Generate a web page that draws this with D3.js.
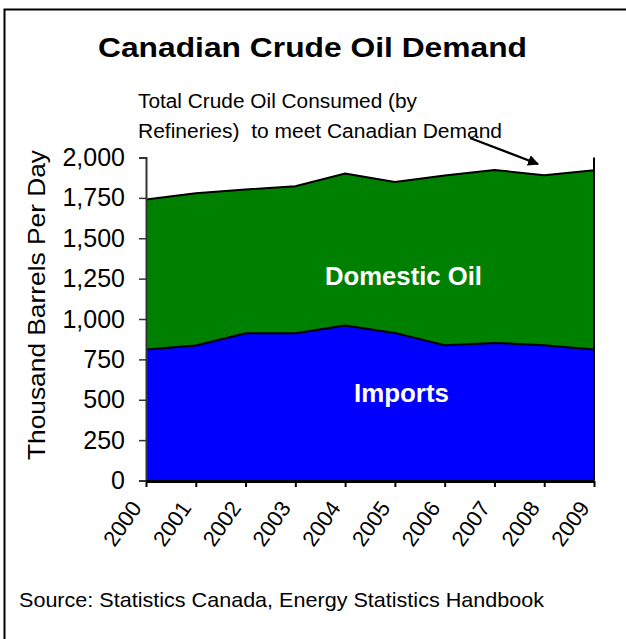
<!DOCTYPE html>
<html><head><meta charset="utf-8">
<script src="https://cdn.jsdelivr.net/npm/d3@7"></script>
<style>body{margin:0;background:#fff}svg{display:block}text{font-family:"Liberation Sans",Arial,sans-serif}</style>
</head><body>
<svg id="c" width="626" height="639"></svg>
<script>
const years = ["2000","2001","2002","2003","2004","2005","2006","2007","2008","2009"];
const imports = [811, 836, 912, 912, 960, 914, 838, 852, 838, 811];
const domestic = [929, 943, 890, 910, 941, 935, 1050, 1071, 1052, 1110];
const yTicks = [0, 250, 500, 750, 1000, 1250, 1500, 1750, 2000];

const svg = d3.select("#c");
svg.append("rect").attr("x",4.5).attr("y",9.5).attr("width",700).attr("height",700)
  .attr("fill","none").attr("stroke","#000").attr("stroke-width",2);

const x = d3.scalePoint().domain(years).range([146, 594]);
const y = d3.scaleLinear().domain([0, 2000]).range([480.5, 157.5]);

const data = years.map((yr,i)=>({yr, imp: imports[i], dom: domestic[i]}));
const stack = d3.stack().keys(["imp","dom"])(data);
const area = d3.area().x(d=>x(d.data.yr)).y0(d=>y(d[0])).y1(d=>y(d[1]));
const colors = ["#0000ff","#008000"];
stack.forEach((s,i)=>{
  svg.append("path").datum(s).attr("d",area).attr("fill",colors[i]);
});
const line = d3.line().x(d=>x(d.data.yr)).y(d=>y(d[1]));
stack.forEach(s=>{
  svg.append("path").datum(s).attr("d",line).attr("fill","none").attr("stroke","#000").attr("stroke-width",2);
});
svg.append("line").attr("x1",x("2009")).attr("x2",x("2009"))
  .attr("y1",y(2000)).attr("y2",y(0)).attr("stroke","#000").attr("stroke-width",2);

// y axis
const ya = svg.append("g").attr("transform","translate(146,0)")
  .call(d3.axisLeft(y).tickValues(yTicks).tickSize(7).tickPadding(14).tickFormat(d3.format(",")));
ya.select(".domain").attr("stroke","#333").attr("stroke-width",2);
ya.selectAll(".tick line").attr("stroke","#333").attr("stroke-width",1.5);
ya.selectAll("text").attr("font-size",25).attr("fill","#000");

// x axis
const xa = svg.append("g").attr("transform","translate(0,481)")
  .call(d3.axisBottom(x).tickSize(6).tickSizeOuter(0));
xa.select(".domain").attr("stroke","#000").attr("stroke-width",3);
xa.selectAll(".tick line").attr("stroke","#000").attr("stroke-width",2);
xa.selectAll("text").attr("font-size",22).attr("fill","#000")
  .attr("text-anchor","end").attr("x",0).attr("y",0).attr("dy",0)
  .attr("transform","translate(-4,27) rotate(-55)");

// texts
svg.append("text").attr("x",98).attr("y",57).attr("textLength",429).attr("lengthAdjust","spacingAndGlyphs")
  .attr("font-size",27).attr("font-weight","bold").text("Canadian Crude Oil Demand");
svg.append("text").attr("x",138).attr("y",108).attr("font-size",20)
  .attr("textLength",279).attr("lengthAdjust","spacingAndGlyphs").text("Total Crude Oil Consumed (by");
svg.append("text").attr("x",138).attr("y",138).attr("font-size",20)
  .attr("textLength",364).attr("lengthAdjust","spacingAndGlyphs")
  .style("white-space","pre").text("Refineries)  to meet Canadian Demand");
svg.append("text").attr("transform","translate(45,305) rotate(-90)").attr("text-anchor","middle")
  .attr("font-size",24).attr("textLength",310).attr("lengthAdjust","spacingAndGlyphs")
  .text("Thousand Barrels Per Day");
svg.append("text").attr("x",325).attr("y",285).attr("fill","#fff")
  .attr("font-size",25).attr("font-weight","bold").attr("textLength",157).attr("lengthAdjust","spacingAndGlyphs")
  .text("Domestic Oil");
svg.append("text").attr("x",354).attr("y",402).attr("fill","#fff")
  .attr("font-size",25).attr("font-weight","bold").attr("textLength",95).attr("lengthAdjust","spacingAndGlyphs")
  .text("Imports");
svg.append("text").attr("x",19).attr("y",607).attr("font-size",21)
  .attr("textLength",525).attr("lengthAdjust","spacingAndGlyphs")
  .text("Source: Statistics Canada, Energy Statistics Handbook");

// arrow
svg.append("defs").append("marker").attr("id","ah").attr("viewBox","0 0 10 10")
  .attr("refX",9).attr("refY",5).attr("markerWidth",5).attr("markerHeight",5)
  .attr("orient","auto").attr("markerUnits","strokeWidth")
  .append("path").attr("d","M0,0L10,5L0,10z").attr("fill","#000");
svg.append("line").attr("x1",470).attr("y1",138).attr("x2",538).attr("y2",164)
  .attr("stroke","#000").attr("stroke-width",2.2).attr("marker-end","url(#ah)");
</script>
</body></html>
